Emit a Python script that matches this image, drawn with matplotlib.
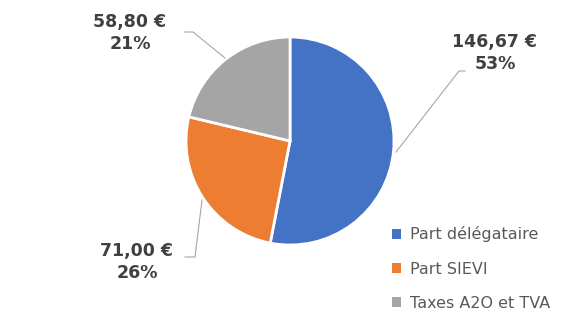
import numpy as np
import matplotlib.pyplot as plt

# donnees
categories = ["Part délégataire", "Part SIEVI", "Taxes A2O et TVA"]
montants = [146.67, 71.00, 58.80]
couleurs = ["#4472C4", "#ED7D31", "#A5A5A5"]

W, H = 582, 327
fig = plt.figure(figsize=(W / 100, H / 100), dpi=100)
ax = fig.add_axes([0, 0, 1, 1])

cx, cy, r = 290, H - 141, 104
wedges, _ = ax.pie(montants, colors=couleurs, startangle=90, counterclock=False,
                   center=(cx, cy), radius=r, frame=True,
                   wedgeprops=dict(edgecolor="white", linewidth=2))
ax.set_xlim(0, W)
ax.set_ylim(0, H)
ax.set_aspect("equal")
ax.axis("off")

total = sum(montants)
pct = [round(v / total * 100) for v in montants]
txt = [f"{v:,.2f} €".replace(".", ",") + f"\n{p}%" for v, p in zip(montants, pct)]

# positions des etiquettes (pixels, origine en haut)
lab_pos = [(495, 53), (137, 262), (130, 33)]
leaders = [
    [(396, 152), (459, 71), (465, 71)],
    [(202, 200), (195, 257), (185, 257)],
    [(225, 58), (193, 32), (185, 32)],
]
for (lx, ly), t, pts in zip(lab_pos, txt, leaders):
    ax.text(lx, H - ly, t, ha="center", va="center", fontsize=12.5, fontweight="bold",
            color="#404040", linespacing=1.25)
    xs = [p[0] for p in pts]
    ys = [H - p[1] for p in pts]
    ax.plot(xs, ys, color="#A6A6A6", lw=0.8)

leg = ax.legend(wedges, categories, loc="upper left", bbox_to_anchor=(386 / W, 1 - 220 / H),
                frameon=False, fontsize=11.5, handlelength=0.55, handleheight=0.55,
                handletextpad=0.55, labelspacing=1.2, labelcolor="#595959",
                borderaxespad=0)
for h in leg.legend_handles:
    h.set_edgecolor("none")

fig.savefig("out.png", dpi=100)
